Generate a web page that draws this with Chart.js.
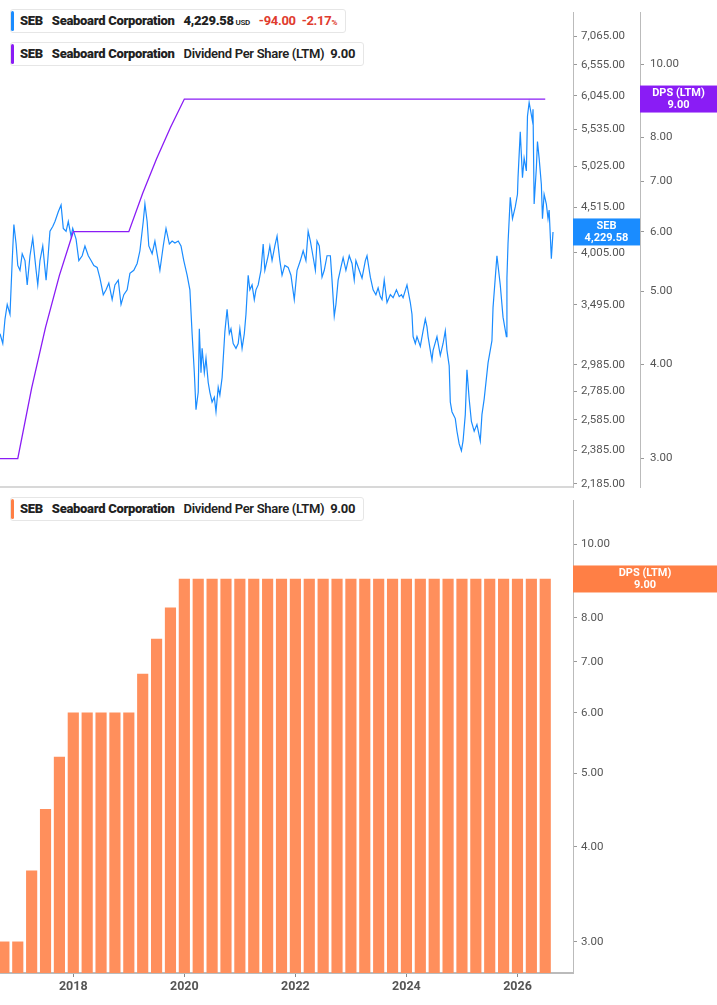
<!DOCTYPE html>
<html><head><meta charset="utf-8">
<script src="https://cdn.jsdelivr.net/npm/chart.js@4"></script>
<style>
body{margin:0;background:#fff;width:717px;height:1005px;position:relative;overflow:hidden;font-family:Roboto,"Liberation Sans",sans-serif}
.pane{position:absolute;left:0;width:717px}
.leg{position:absolute;left:10px;height:22px;background:#fff;border:1px solid #e6e6e6;border-radius:3px;font-size:13px;font-weight:700;color:#222;line-height:22px;padding:0 8px 0 9px;white-space:nowrap;letter-spacing:-0.3px}
.leg:before{content:"";position:absolute;left:0;top:1px;bottom:1px;width:3px;border-radius:2px;background:var(--c)}
.leg b{margin-right:6px}
</style></head><body>
<div class="pane" style="top:0;height:505px"><canvas id="c1"></canvas></div>
<div class="pane" style="top:490px;height:515px"><canvas id="c2"></canvas></div>
<div class="leg" style="top:9px;--c:#1a8cff"><b>SEB</b> <b>Seaboard Corporation</b> <b>4,229.58<span style="font-size:8px;font-weight:600"> USD</span></b> <span style="color:#e03b2e">-94.00&nbsp; -2.17<span style="font-size:8px">%</span></span></div>
<div class="leg" style="top:42px;--c:#8a1cf5"><b>SEB</b> <b>Seaboard Corporation</b> <span style="font-weight:600">Dividend Per Share (LTM)</span>&nbsp; 9.00</div>
<div class="leg" style="top:497px;--c:#ff7f45"><b>SEB</b> <b>Seaboard Corporation</b> <span style="font-weight:600">Dividend Per Share (LTM)</span>&nbsp; 9.00</div>
<script>
// Quarterly dividend per share (LTM)
const dpsDates=[2016.5,2016.75,2017.0,2017.25,2017.5,2017.75,2018.0,2018.25,2018.5,2018.75,2019.0,2019.25,2019.5,2019.75,2020.0,2020.25,2020.5,2020.75,2021.0,2021.25,2021.5,2021.75,2022.0,2022.25,2022.5,2022.75,2023.0,2023.25,2023.5,2023.75,2024.0,2024.25,2024.5,2024.75,2025.0,2025.25,2025.5,2025.75,2026.0,2026.25,2026.5];
const dpsValues=[3,3,3,3.72,4.48,5.25,6,6,6,6,6,6.75,7.5,8.25,9,9,9,9,9,9,9,9,9,9,9,9,9,9,9,9,9,9,9,9,9,9,9,9,9,9,9];
// Share price (USD)
const priceDates=[2016.68,2016.73,2016.77,2016.81,2016.86,2016.90,2016.93,2016.97,2017.00,2017.04,2017.08,2017.13,2017.17,2017.22,2017.27,2017.33,2017.36,2017.40,2017.45,2017.51,2017.54,2017.58,2017.63,2017.67,2017.73,2017.78,2017.82,2017.87,2017.91,2017.96,2017.99,2018.05,2018.10,2018.16,2018.21,2018.27,2018.32,2018.37,2018.43,2018.48,2018.54,2018.59,2018.64,2018.70,2018.75,2018.81,2018.86,2018.91,2018.97,2019.02,2019.09,2019.15,2019.20,2019.26,2019.29,2019.33,2019.36,2019.42,2019.47,2019.53,2019.56,2019.62,2019.67,2019.73,2019.78,2019.83,2019.89,2019.94,2019.99,2020.05,2020.10,2020.14,2020.18,2020.21,2020.25,2020.27,2020.30,2020.32,2020.36,2020.39,2020.43,2020.46,2020.50,2020.54,2020.57,2020.61,2020.64,2020.68,2020.73,2020.77,2020.81,2020.84,2020.88,2020.93,2020.97,2021.00,2021.04,2021.08,2021.11,2021.15,2021.18,2021.22,2021.26,2021.29,2021.33,2021.38,2021.42,2021.45,2021.51,2021.54,2021.58,2021.63,2021.67,2021.72,2021.76,2021.81,2021.87,2021.92,2021.98,2022.03,2022.09,2022.14,2022.19,2022.23,2022.27,2022.30,2022.36,2022.39,2022.43,2022.48,2022.52,2022.57,2022.63,2022.66,2022.70,2022.73,2022.77,2022.82,2022.86,2022.91,2022.97,2023.02,2023.06,2023.09,2023.15,2023.20,2023.26,2023.29,2023.35,2023.40,2023.45,2023.49,2023.53,2023.56,2023.60,2023.65,2023.71,2023.76,2023.82,2023.87,2023.91,2023.94,2024.01,2024.07,2024.10,2024.12,2024.16,2024.19,2024.25,2024.30,2024.34,2024.37,2024.39,2024.43,2024.46,2024.48,2024.55,2024.61,2024.66,2024.70,2024.73,2024.77,2024.79,2024.82,2024.88,2024.91,2024.95,2024.99,2025.02,2025.06,2025.09,2025.13,2025.17,2025.22,2025.27,2025.33,2025.36,2025.40,2025.47,2025.54,2025.56,2025.63,2025.69,2025.74,2025.80,2025.81,2025.83,2025.87,2025.91,2025.96,2026.00,2026.01,2026.05,2026.09,2026.12,2026.16,2026.18,2026.21,2026.27,2026.28,2026.30,2026.34,2026.36,2026.39,2026.43,2026.45,2026.48,2026.52,2026.55,2026.57,2026.61,2026.64];
const priceValues=[3239,3157,3366,3497,3409,3924,4313,4098,3874,3825,3995,3924,3681,3974,4162,3825,3681,3924,4077,3728,3924,4237,4291,4347,4459,4540,4269,4237,4347,4183,4269,4151,3924,3974,4077,3974,3924,3874,3854,3747,3588,3634,3700,3542,3681,3728,3497,3588,3634,3795,3825,3894,4026,4347,4551,4347,4077,3995,4130,3924,3825,4077,4269,4098,4130,4109,4130,4077,3924,3776,3634,3239,2924,2654,2778,3281,2924,3117,2924,3038,2850,2778,2708,2743,2640,2814,2757,2887,3256,3453,3239,3281,3157,3117,3157,3281,3117,3239,3409,3776,3634,3681,3542,3634,3681,3825,4098,3825,3974,4077,3924,4077,4183,3924,3776,3874,3854,3776,3542,3825,3924,4026,3924,4237,4130,4026,3825,4130,4077,3757,3825,3974,3974,3728,3392,3497,3728,3854,3954,3825,3974,3894,3728,3924,3825,3747,3924,3974,3757,3634,3588,3653,3570,3542,3728,3515,3588,3560,3634,3570,3588,3560,3681,3515,3409,3215,3157,3215,3133,3264,3366,3298,3215,3101,3023,3101,3215,3061,3157,3264,3101,2977,2708,2640,2593,2508,2426,2383,2445,2620,2947,2729,2573,2508,2553,2445,2620,2729,3000,3181,3471,3974,3681,3383,3215,3747,4109,4633,4380,4516,4669,4877,5500,4877,5133,4964,5730,5940,5655,5833,4551,5003,5360,5133,4790,4380,4669,4551,4380,4480,3944,4229.58];
const priceTicks=[2185,2385,2585,2785,2985,3495,4005,4515,5025,5535,6045,6555,7065];
const dpsTicks=[3,4,5,6,7,8,10];
const yearTicks=[2018,2020,2022,2024,2026];
const lastPrice=4229.58, lastDps=9;

const XMIN=2016.68, XMAX=2027.0;
const gray='#555', font={family:'Roboto',size:11.5};
const fmt=v=>v.toLocaleString('en-US',{minimumFractionDigits:2,maximumFractionDigits:2});
const fixTicks=arr=>(s=>{s.ticks=arr.map(v=>({value:v}));});
function tag(ctx,x,w,y,h,color,l1,l2){
  ctx.save();ctx.fillStyle=color;ctx.fillRect(x,y-h/2,w,h);
  ctx.fillStyle='#fff';ctx.font='bold 11px Roboto';ctx.textAlign='center';ctx.textBaseline='middle';
  ctx.fillText(l1,x+w/2,y-6);ctx.fillText(l2,x+w/2,y+6);ctx.restore();
}
Chart.defaults.animation=false;
Chart.defaults.font.family='Roboto';

new Chart(document.getElementById('c1'),{
  data:{datasets:[
    {type:'line',label:'DPS',data:dpsDates.map((d,i)=>({x:d,y:dpsValues[i]})),yAxisID:'yd',borderColor:'#8a1cf5',borderWidth:1.3,pointRadius:0,tension:0},
    {type:'line',label:'SEB',data:priceDates.map((d,i)=>({x:d,y:priceValues[i]})),yAxisID:'yp',borderColor:'#1a8cff',borderWidth:1.2,pointRadius:0,tension:0}
  ]},
  options:{responsive:true,maintainAspectRatio:false,layout:{padding:0},
    plugins:{legend:{display:false},tooltip:{enabled:false}},
    scales:{
      x:{type:'linear',min:XMIN,max:XMAX,ticks:{display:false},grid:{display:false,drawTicks:false},border:{color:'#d8d8d8',width:2},afterFit:s=>{s.height=18;}},
      yp:{type:'logarithmic',position:'right',weight:1,min:2167,max:7512,afterBuildTicks:fixTicks(priceTicks),
        ticks:{color:gray,font,padding:4,callback:v=>fmt(v)},grid:{drawOnChartArea:false,tickLength:4,color:'#999'},border:{color:'#bbb'},afterFit:s=>{s.width=67;}},
      yd:{type:'logarithmic',position:'right',weight:2,min:2.75,max:11.71,afterBuildTicks:fixTicks(dpsTicks),
        ticks:{color:gray,font,padding:6,callback:v=>fmt(v)},grid:{drawOnChartArea:false,tickLength:4,color:'#999'},border:{color:'#bbb'},afterFit:s=>{s.width=77;}}
    }},
  plugins:[{id:'tags',afterDraw(c){const p=c.scales.yp,d=c.scales.yd;
    tag(c.ctx,p.left,p.width,p.getPixelForValue(lastPrice),27,'#1a8cff','SEB',fmt(lastPrice));
    tag(c.ctx,d.left,d.width,d.getPixelForValue(lastDps),27,'#8a1cf5','DPS (LTM)',fmt(lastDps));}}]
});

new Chart(document.getElementById('c2'),{
  data:{datasets:[{type:'bar',data:dpsDates.map((d,i)=>({x:d,y:dpsValues[i]})),backgroundColor:'#ff8f5c',barThickness:10.5,borderWidth:0,base:2.73}]},
  options:{responsive:true,maintainAspectRatio:false,layout:{padding:{top:10}},
    plugins:{legend:{display:false},tooltip:{enabled:false}},
    scales:{
      x:{type:'linear',offset:false,min:XMIN,max:XMAX,afterBuildTicks:fixTicks(yearTicks),
        ticks:{color:gray,font:{family:'Roboto',size:12.5,weight:'bold'},padding:2,callback:v=>String(v)},
        grid:{offset:false,drawOnChartArea:false,tickLength:4,color:'#888'},border:{color:'#bbb',width:2},afterFit:s=>{s.height=32;}},
      y:{type:'logarithmic',position:'right',min:2.73,max:11.4,afterBuildTicks:fixTicks(dpsTicks),
        ticks:{color:gray,font,padding:4,callback:v=>fmt(v)},grid:{drawOnChartArea:false,tickLength:4,color:'#999'},border:{color:'#bbb'},afterFit:s=>{s.width=144;}}
    }},
  plugins:[{id:'tag2',afterDraw(c){const y=c.scales.y;
    tag(c.ctx,y.left,y.width,y.getPixelForValue(lastDps),27,'#ff7f45','DPS (LTM)',fmt(lastDps));}}]
});
</script></body></html>
